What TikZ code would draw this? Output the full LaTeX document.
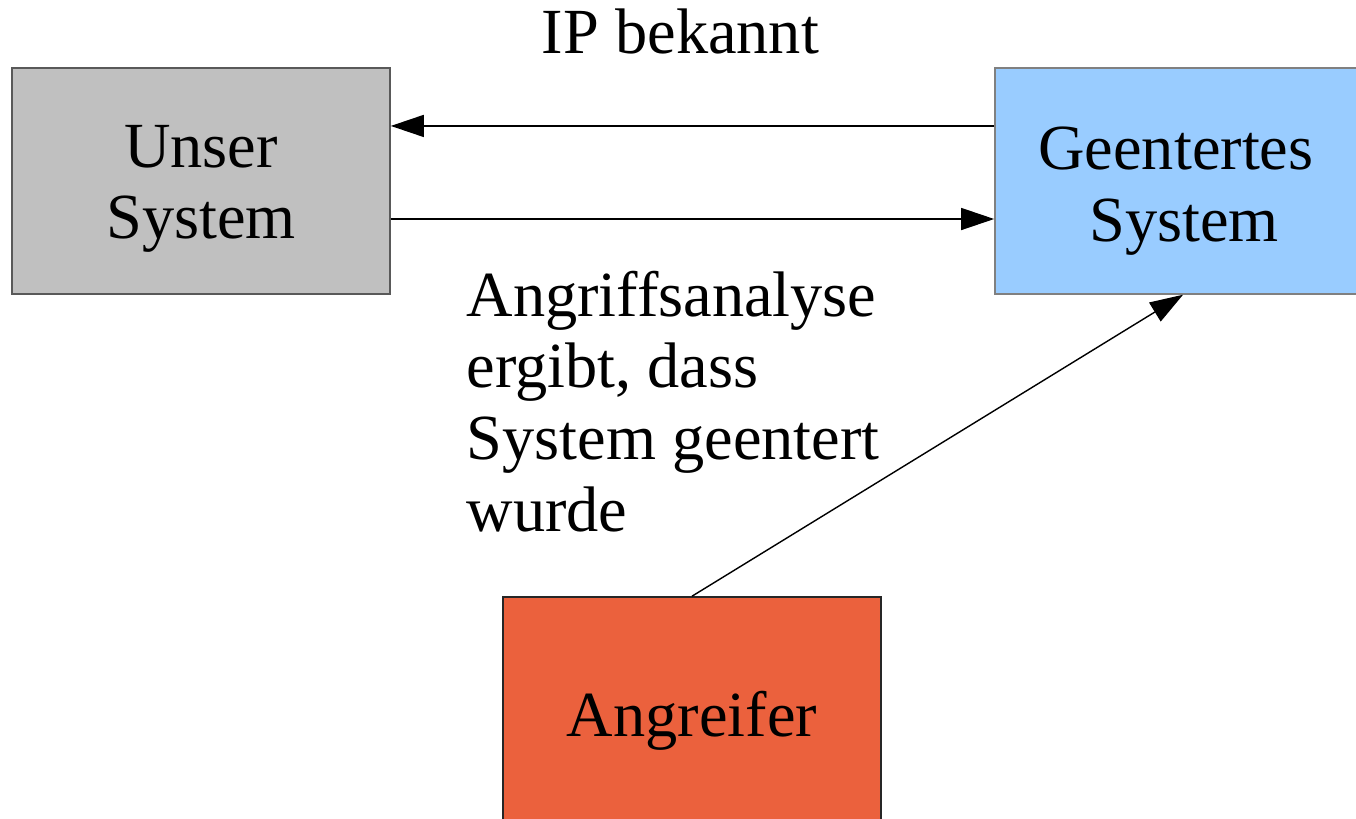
\documentclass[tikz,border=0pt]{standalone}
\usepackage{fontspec}
\setmainfont{Liberation Serif}
\usetikzlibrary{arrows.meta}
\definecolor{boxgray}{HTML}{C0C0C0}
\definecolor{boxblue}{HTML}{99CCFF}
\definecolor{boxred}{HTML}{EB613D}
\tikzset{
  sysbox/.style={rectangle, minimum width=3.78cm, minimum height=2.26cm, inner sep=0pt},
  arr/.style={-{Triangle[length=3.3mm,width=2.2mm]}, line width=0.4pt},
  lbl/.style={inner sep=0pt, align=center, font=\fontsize{18.3}{20.4}\selectfont}
}
\begin{document}
\begin{tikzpicture}[x=0.01cm, y=-0.01cm]
\useasboundingbox (0,0) rectangle (1356,819);

\node[sysbox, fill=boxgray, draw=black!65,
  label={[lbl, yshift=-0.08cm]center:{Unser\\System}}] (unser) at (201,181) {};
\node[sysbox, fill=boxblue, draw=black!50, minimum width=3.64cm,
  label={[lbl, xshift=0.07cm, yshift=-0.1cm]center:{Geentertes\hspace*{0.25em}\\System}}] (geentert) at (1177,181) {};
\node[sysbox, fill=boxred, draw=black!85, minimum height=2.32cm,
  label={[lbl, yshift=-0.08cm]center:Angreifer}] (angreifer) at (692,713) {};

\draw[arr] ([yshift=0.55cm]geentert.west) -- ([yshift=0.55cm]unser.east) node[lbl, pos=0.5, above=0.71cm, xshift=-0.12cm] (ip) {IP bekannt};
\draw[arr] ([yshift=-0.38cm]unser.east) -- ([yshift=-0.38cm]geentert.west);
\draw[arr] (angreifer.north) -- ([xshift=0.06cm]geentert.south);

\node[lbl, anchor=north west, align=left] (analyse) at (466,270) {Angriffsanalyse\\ergibt, dass\\System geentert\\wurde};
\end{tikzpicture}
\end{document}
